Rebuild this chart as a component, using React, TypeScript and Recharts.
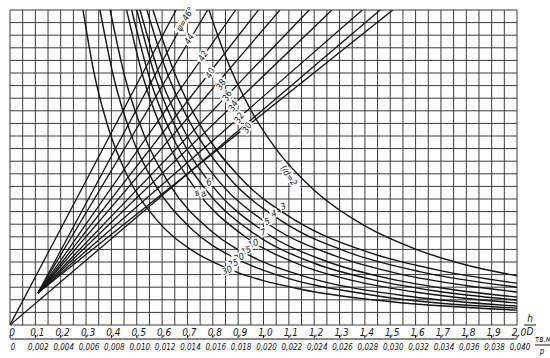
import React from "react";
import { ComposedChart, Line, XAxis, YAxis, CartesianGrid, ReferenceDot } from "recharts";

// grid steps (x: h/D, y: square grid of the same step)
const xTicks = [0, 0.05, 0.1, 0.15, 0.2, 0.25, 0.3, 0.35, 0.4, 0.45, 0.5, 0.55, 0.6, 0.65, 0.7, 0.75, 0.8, 0.85, 0.9, 0.95, 1.0,
  1.05, 1.1, 1.15, 1.2, 1.25, 1.3, 1.35, 1.4, 1.45, 1.5, 1.55, 1.6, 1.65, 1.7, 1.75, 1.8, 1.85, 1.9, 1.95, 2.0];
const yTicks = [0, 0.05, 0.1, 0.15, 0.2, 0.25, 0.3, 0.35, 0.4, 0.45, 0.5, 0.55, 0.6, 0.65, 0.7, 0.75, 0.8, 0.85, 0.9, 0.95, 1.0,
  1.05, 1.1, 1.15, 1.2, 1.25];
const tenthTicks = [0, 0.1, 0.2, 0.3, 0.4, 0.5, 0.6, 0.7, 0.8, 0.9, 1.0, 1.1, 1.2, 1.3, 1.4, 1.5, 1.6, 1.7, 1.8, 1.9, 2.0];
const xLabels = ["0", "0,1", "0,2", "0,3", "0,4", "0,5", "0,6", "0,7", "0,8", "0,9", "1,0", "1,1", "1,2", "1,3", "1,4", "1,5",
  "1,6", "1,7", "1,8", "1,9", "2,0"];
const x2Labels = ["0", "0,002", "0,004", "0,006", "0,008", "0,010", "0,012", "0,014", "0,016", "0,018", "0,020", "0,022",
  "0,024", "0,026", "0,028", "0,030", "0,032", "0,034", "0,036", "0,038", "0,040"];

// rays psi = 46..30 deg, from the common start point to the upper edge
const rayStart = [0.11, 0.127];
const psiValues = ["46", "44", "42", "40", "38", "36", "34", "32", "30"];
const rayEndX = [0.71, 0.78, 0.89, 0.98, 1.065, 1.18, 1.27, 1.39, 1.51];
// two rays running from the origin
const originRays = [
  [[0, 0], [0.655, 1.25]],
  [[0, 0], [1.46, 1.25]],
];

// falling curves, l/d = 2 ... 30
const curveNames = ["2", "3", "4", "5", "7", "10", "15", "20", "25", "30"];
const curve2 = [[0.785, 1.25], [0.85, 1.066], [0.95, 0.853], [1.05, 0.698], [1.2, 0.535], [1.4, 0.393], [1.6, 0.301], [1.8, 0.238], [2.0, 0.195]];
const curve3 = [[0.564, 1.25], [0.649, 1.0], [0.761, 0.775], [0.902, 0.591], [1.128, 0.414], [1.41, 0.29], [1.692, 0.217], [2.0, 0.166]];
const curve4 = [[0.54, 1.25], [0.621, 0.997], [0.729, 0.769], [0.864, 0.584], [1.08, 0.407], [1.35, 0.283], [1.62, 0.211], [2.0, 0.15]];
const curve5 = [[0.513, 1.25], [0.59, 0.991], [0.693, 0.76], [0.821, 0.574], [1.026, 0.396], [1.283, 0.274], [1.539, 0.202], [1.796, 0.157], [2.0, 0.131]];
const curve7 = [[0.5, 1.25], [0.575, 0.979], [0.675, 0.74], [0.8, 0.55], [1.0, 0.372], [1.25, 0.252], [1.5, 0.183], [1.75, 0.14], [2.0, 0.111]];
const curve10 = [[0.48, 1.25], [0.552, 0.975], [0.648, 0.733], [0.768, 0.542], [0.96, 0.365], [1.2, 0.245], [1.44, 0.178], [1.68, 0.135], [2.0, 0.099]];
const curve15 = [[0.46, 1.25], [0.529, 0.97], [0.621, 0.726], [0.736, 0.533], [0.92, 0.356], [1.15, 0.237], [1.38, 0.17], [1.61, 0.129], [1.84, 0.101], [2.0, 0.087]];
const curve20 = [[0.395, 1.25], [0.454, 0.981], [0.533, 0.743], [0.632, 0.553], [0.79, 0.376], [0.988, 0.255], [1.185, 0.186], [1.58, 0.113], [2.0, 0.075]];
const curve25 = [[0.355, 1.25], [0.408, 0.987], [0.479, 0.752], [0.568, 0.564], [0.71, 0.387], [0.888, 0.265], [1.065, 0.195], [1.42, 0.12], [2.0, 0.067]];
const curve30 = [[0.288, 1.25], [0.331, 1.003], [0.389, 0.779], [0.461, 0.596], [0.576, 0.42], [0.72, 0.295], [0.864, 0.222], [1.152, 0.141], [1.44, 0.099], [2.0, 0.059]];
const curves = [curve2, curve3, curve4, curve5, curve7, curve10, curve15, curve20, curve25, curve30];

// label anchor points
const psiLabelPos = [[0.69, 1.214], [0.706, 1.135], [0.761, 1.068], [0.789, 1.0], [0.832, 0.955], [0.856, 0.91], [0.88, 0.87], [0.903, 0.823], [0.935, 0.783]];
const curveLabelPos = [[1.1, 0.593], [1.077, 0.471], [1.041, 0.443], [1.014, 0.411], [0.998, 0.368], [0.959, 0.324], [0.931, 0.296], [0.903, 0.269], [0.88, 0.245], [0.856, 0.217]];
const letterLabels = ["б", "в", "а"];
const letterLabelPos = [[0.785, 0.566], [0.738, 0.526], [0.762, 0.522]];

const FONT = "'Liberation Sans Narrow', 'DejaVu Sans Condensed', 'Liberation Sans', sans-serif";
const INK = "#151515";

const pts = (arr: number[][]) => arr.map(([x, y]) => ({ x, y }));

const MainTick = (props: any) => {
  const { x, y, payload } = props;
  const i = Math.round(payload.value * 20);
  if (i % 2 !== 0) return <g />;
  return (
    <text x={x + 2} y={y + 9} textAnchor="middle" fontFamily={FONT} fontStyle="italic" fontSize={10} fill={INK}>
      {xLabels[i / 2]}
    </text>
  );
};

const SecondTick = (props: any) => {
  const { x, y, payload } = props;
  const i = Math.round(payload.value * 10);
  return (
    <g>
      <line x1={x} y1={y - 3} x2={x} y2={y - 6} stroke={INK} />
      <text x={x + 3} y={y + 9} textAnchor="middle" fontFamily={FONT} fontStyle="italic" fontSize={8} fill={INK}>
        {x2Labels[i]}
      </text>
    </g>
  );
};

const textShape = (label: string, angle: number, size: number) => (p: any) => (
  <g transform={`translate(${p.cx},${p.cy}) rotate(${angle})`}>
    <rect x={-size * 0.32 * label.length - 1} y={-size * 0.5} width={size * 0.64 * label.length + 2} height={size} fill="#fff" />
    <text x={0} y={size * 0.35} textAnchor="middle" fontFamily={FONT} fontStyle="italic" fontSize={size} fill={INK}>
      {label}
    </text>
  </g>
);

export default function App() {
  return (
    <div style={{ position: "absolute", left: 0, top: 0, width: 550, height: 358, background: "#fff" }}>
      <ComposedChart width={550} height={358} margin={{ top: 10, right: 33, bottom: 0, left: 10 }}>
        <CartesianGrid stroke="#3a3a3a" strokeWidth={1} xAxisId="a" />
        <XAxis xAxisId="a" type="number" dataKey="x" domain={[0, 2]} ticks={xTicks} interval={0} height={14}
          axisLine={false} tickLine={false} tickSize={0} tick={<MainTick />} allowDataOverflow />
        <XAxis xAxisId="b" type="number" dataKey="x" domain={[0, 2]} ticks={tenthTicks} interval={0} height={19}
          axisLine={{ stroke: INK }} tickLine={false} tickSize={0} tick={<SecondTick />} allowDataOverflow />
        <YAxis type="number" domain={[0, 1.25]} ticks={yTicks} interval={0} hide allowDataOverflow />
        {psiValues.map((v, i) => (
          <Line key={"r" + v} xAxisId="a" data={pts([rayStart, [rayEndX[i], 1.25]])} dataKey="y" type="linear"
            stroke={INK} strokeWidth={1.3} dot={false} isAnimationActive={false} />
        ))}
        {originRays.map((r, i) => (
          <Line key={"o" + i} xAxisId="a" data={pts(r)} dataKey="y" type="linear"
            stroke={INK} strokeWidth={1.3} dot={false} isAnimationActive={false} />
        ))}
        {curves.map((c, i) => (
          <Line key={"c" + curveNames[i]} xAxisId="a" data={pts(c)} dataKey="y" type="monotone"
            stroke={INK} strokeWidth={1.4} dot={false} isAnimationActive={false} />
        ))}
        {psiValues.map((v, i) => (
          <ReferenceDot key={"pl" + v} xAxisId="a" x={psiLabelPos[i][0]} y={psiLabelPos[i][1]} r={0}
            shape={textShape(i === 0 ? "ψ=46°" : v, -60, 9)} />
        ))}
        {curveNames.map((v, i) => (
          <ReferenceDot key={"cl" + v} xAxisId="a" x={curveLabelPos[i][0]} y={curveLabelPos[i][1]} r={0}
            shape={textShape(i === 0 ? "l/d=2" : v, i === 0 ? 55 : -20, 9)} />
        ))}
        {letterLabels.map((v, i) => (
          <ReferenceDot key={"ll" + i} xAxisId="a" x={letterLabelPos[i][0]} y={letterLabelPos[i][1]} r={0}
            shape={textShape(v, -20, 9)} />
        ))}
      </ComposedChart>
      <svg width={550} height={358} style={{ position: "absolute", left: 0, top: 0, pointerEvents: "none" }}>
        <g fontFamily={FONT} fontStyle="italic" fill={INK}>
          <text x={530} y={322} fontSize={10} textAnchor="middle">h</text>
          <line x1={524} y1={325} x2={536} y2={325} stroke={INK} />
          <text x={530} y={335} fontSize={10} textAnchor="middle">D</text>
          <text x={543} y={342} fontSize={8} textAnchor="middle">τв.м</text>
          <line x1={535} y1={345} x2={550} y2={345} stroke={INK} />
          <text x={542} y={354} fontSize={8} textAnchor="middle">p</text>
        </g>
      </svg>
    </div>
  );
}
